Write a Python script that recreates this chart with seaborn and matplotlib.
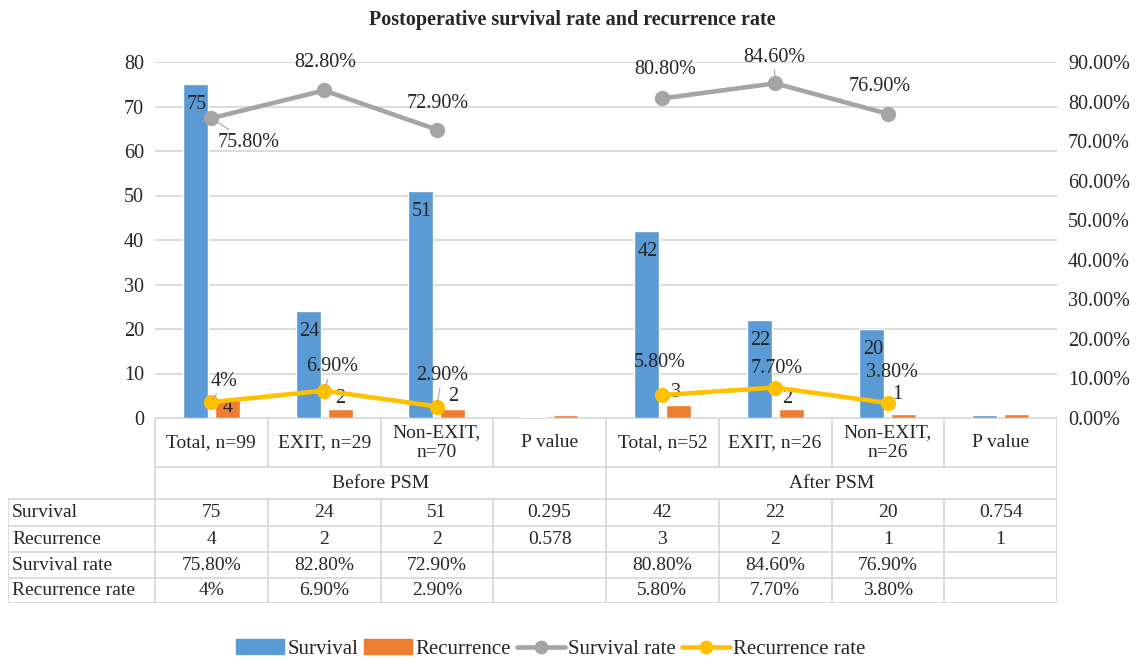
import numpy as np
import pandas as pd
import matplotlib
matplotlib.use('Agg')
import matplotlib.pyplot as plt
from matplotlib.patches import Patch
from matplotlib.lines import Line2D
from matplotlib.ticker import FuncFormatter
import seaborn as sns

sns.set_style("white")
plt.rcParams['font.family'] = ['Liberation Serif', 'DejaVu Serif']

# data
col_labels = ['Total, n=99', 'EXIT, n=29', 'Non-EXIT,\nn=70', 'P value',
              'Total, n=52', 'EXIT, n=26', 'Non-EXIT,\nn=26', 'P value']
phases = ['Before PSM', 'After PSM']
survival = [75, 24, 51, 0.295, 42, 22, 20, 0.754]
recurrence = [4, 2, 2, 0.578, 3, 2, 1, 1]
survival_rate = [75.8, 82.8, 72.9, np.nan, 80.8, 84.6, 76.9, np.nan]
recurrence_rate = [4.0, 6.9, 2.9, np.nan, 5.8, 7.7, 3.8, np.nan]
row_names = ['Survival', 'Recurrence', 'Survival rate', 'Recurrence rate']
row_survival = ['75', '24', '51', '0.295', '42', '22', '20', '0.754']
row_recurrence = ['4', '2', '2', '0.578', '3', '2', '1', '1']
row_surv_rate = ['75.80%', '82.80%', '72.90%', '', '80.80%', '84.60%', '76.90%', '']
row_rec_rate = ['4%', '6.90%', '2.90%', '', '5.80%', '7.70%', '3.80%', '']

BLUE = '#5B9BD5'
ORANGE = '#ED7D31'
GRAY = '#A5A5A5'
YELLOW = '#FFC000'
GRID = '#D9D9D9'
TXT = '#262626'
FS = 14      # table text
FS_AX = 14.5  # ticks and labels in the plot

W, H = 1139, 661
fig = plt.figure(figsize=(W / 100, H / 100), dpi=100)

# plot area in pixels
L, R, T, B = 155, 1057, 62, 418
ax = fig.add_axes([L / W, 1 - B / H, (R - L) / W, (B - T) / H])

n = len(survival)
bars = pd.DataFrame({
    'cat': [str(i) for i in range(n)] * 2,
    'value': survival + recurrence,
    'series': ['Survival'] * n + ['Recurrence'] * n,
})
sns.barplot(data=bars, x='cat', y='value', hue='series', order=[str(i) for i in range(n)],
            palette=[BLUE, ORANGE], saturation=1, width=0.57, gap=0.22, legend=False, ax=ax)
ax.set_xlim(-0.5, n - 0.5)
ax.set_ylim(0, 80)
ax.set_yticks(range(0, 81, 10))
ax.yaxis.grid(True, color=GRID, lw=1.3)
ax.set_axisbelow(True)
ax.set_xticks([])
ax.set_xlabel('')
ax.set_ylabel('')
for s in ax.spines.values():
    s.set_visible(False)
ax.tick_params(axis='y', length=0, pad=8, labelsize=FS_AX, labelcolor=TXT)

# bar labels
for i, v in enumerate(survival):
    if i in (3, 7):
        continue
    ax.annotate(f'{v:g}', (i - 0.142, v), xytext=(1, -20), textcoords='offset pixels',
                ha='center', va='center', fontsize=FS_AX, color=TXT)
rec_off = [(0, -7), (0, 11), (0, 13), None, (-2, 12), (-4, 11), (-7, 19), None]
for i, off in enumerate(rec_off):
    if off is None:
        continue
    ax.annotate(f'{recurrence[i]:g}', (i + 0.142, recurrence[i]), xytext=off,
                textcoords='offset pixels', ha='center', va='center', fontsize=FS_AX, color=TXT)

# lines on secondary axis
ax2 = ax.twinx()
lines = pd.DataFrame({
    'x': list(range(n)) * 2,
    'rate': survival_rate + recurrence_rate,
    'series': ['Survival rate'] * n + ['Recurrence rate'] * n,
    'phase': ([0] * 4 + [1] * 4) * 2,
})
sns.lineplot(data=lines, x='x', y='rate', hue='series', units='phase', estimator=None,
             palette=[GRAY, YELLOW], marker='o', markersize=11, markeredgewidth=0,
             linewidth=3.3, legend=False, ax=ax2)
ax2.set_ylim(0, 90)
ax2.set_yticks(range(0, 91, 10))
ax2.yaxis.set_major_formatter(FuncFormatter(lambda v, p: f'{v:.2f}%'))
ax2.set_xlim(-0.5, n - 0.5)
ax2.set_xlabel('')
ax2.set_ylabel('')
for s in ax2.spines.values():
    s.set_visible(False)
ax2.tick_params(axis='y', length=0, pad=8, labelsize=FS_AX, labelcolor=TXT)

sr_off = [(37, -24), (1, 28), (1, 26), None, (3, 29), (-1, 26), (-8, 27), None]
sr_lead = [True, False, False, False, False, True, False, False]
for i, off in enumerate(sr_off):
    if off is None:
        continue
    ap = dict(arrowstyle='-', color=GRAY, lw=0.8, shrinkA=0, shrinkB=2) if sr_lead[i] else None
    ax2.annotate(row_surv_rate[i], (i, survival_rate[i]), xytext=off, textcoords='offset pixels',
                 ha='center', va='center', fontsize=FS_AX, color=TXT, arrowprops=ap)
rr_off = [(13, 21), (8, 24), (5, 31), None, (-3, 33), (2, 19), (4, 30), None]
rr_lead = [True, True, True, False, False, False, False, False]
for i, off in enumerate(rr_off):
    if off is None:
        continue
    ap = dict(arrowstyle='-', color=GRAY, lw=0.8, shrinkA=0, shrinkB=2) if rr_lead[i] else None
    ax2.annotate(row_rec_rate[i], (i, recurrence_rate[i]), xytext=off, textcoords='offset pixels',
                 ha='center', va='center', fontsize=FS_AX, color=TXT, arrowprops=ap)

# data table under the chart (pixel layout)
TL, TB = 8, 603
rows_y = [418, 467, 499, 526, 552, 578, 603]
tax = fig.add_axes([TL / W, 1 - TB / H, (R - TL) / W, (TB - rows_y[0]) / H])
tax.set_xlim(TL, R)
tax.set_ylim(TB, rows_y[0])
tax.axis('off')
edges = np.linspace(L, R, n + 1)
centers = (edges[:-1] + edges[1:]) / 2
lk = dict(color=GRID, lw=1.3, solid_capstyle='butt')
for y in rows_y[:2]:
    tax.plot([L, R], [y, y], **lk)
for y in rows_y[2:]:
    tax.plot([TL, R], [y, y], **lk)
for x in edges:
    tax.plot([x, x], [rows_y[0], rows_y[1]], **lk)
for x in [L, edges[4], R]:
    tax.plot([x, x], [rows_y[1], rows_y[2]], **lk)
for x in [TL] + list(edges):
    tax.plot([x, x], [rows_y[2], rows_y[-1]], **lk)

for c, lab in zip(centers, col_labels):
    tax.text(c, (rows_y[0] + rows_y[1]) / 2, lab, ha='center', va='center',
             fontsize=FS, color=TXT, linespacing=1.2)
for k, ph in enumerate(phases):
    tax.text((edges[4 * k] + edges[4 * k + 4]) / 2, (rows_y[1] + rows_y[2]) / 2 + 1, ph,
             ha='center', va='center', fontsize=FS, color=TXT)
for r, (name, vals) in enumerate(zip(row_names, [row_survival, row_recurrence,
                                                 row_surv_rate, row_rec_rate])):
    yc = (rows_y[r + 2] + rows_y[r + 3]) / 2
    tax.text(TL + 4, yc, name, ha='left', va='center', fontsize=FS, color=TXT)
    for c, v in zip(centers, vals):
        tax.text(c, yc, v, ha='center', va='center', fontsize=FS, color=TXT)

fig.text(572 / W, 1 - 20 / H, 'Postoperative survival rate and recurrence rate',
         ha='center', va='center', fontsize=14.5, fontweight='bold', color=TXT)

handles = [Patch(color=BLUE), Patch(color=ORANGE),
           Line2D([], [], color=GRAY, lw=3.3, marker='o', markersize=10, markeredgewidth=0),
           Line2D([], [], color=YELLOW, lw=3.3, marker='o', markersize=10, markeredgewidth=0)]
fig.legend(handles, ['Survival', 'Recurrence', 'Survival rate', 'Recurrence rate'],
           loc='center', bbox_to_anchor=(551 / W, 1 - 649 / H), ncol=4, frameon=False,
           fontsize=15, handlelength=2.3, handletextpad=0.15, columnspacing=0.3,
           labelcolor=TXT)

fig.savefig('out.png', dpi=100)
